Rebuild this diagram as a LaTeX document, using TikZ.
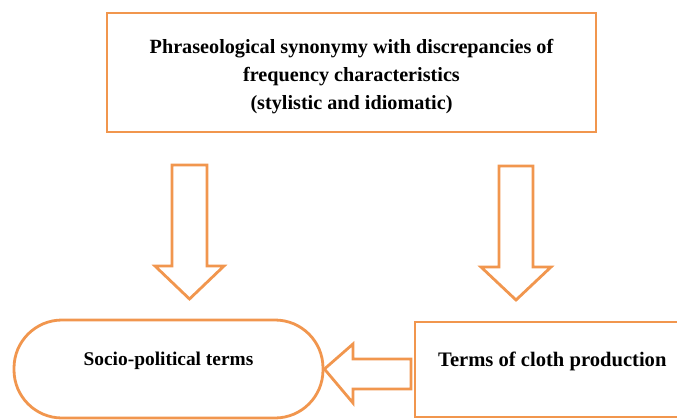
\documentclass[tikz,border=0pt]{standalone}
\usepackage{fontspec}
\setmainfont{Liberation Serif}
\usetikzlibrary{positioning}
\definecolor{orx}{RGB}{241,150,78}

\begin{document}
\begin{tikzpicture}[x=1pt,y=-1pt,
        box/.style={draw=orx,line width=2.8pt,fill=white,inner sep=0pt},
        fatarrow/.style={draw=orx,line width=2.8pt,line join=miter,fill=white},
        lbl/.style={font=\fontsize{20.2}{28}\selectfont\bfseries,align=center}
    ]
            \path[use as bounding box] (0,0) rectangle (677,420);
            \clip (0,0) rectangle (677,420);
            % boxes
            \node[box,minimum width=489,minimum height=119] (synonymy) at (351.5,72.5) {};
            \node[box,minimum width=309,minimum height=98,rounded corners=48] (socio) at (168.5,369) {};
            \node[box,minimum width=280,minimum height=95] (cloth) at (555,369.5) {};
            % texts
            \node[lbl] (synonymytext) at ([yshift=-4pt]synonymy.center)
                {Phraseological synonymy with discrepancies of\\frequency characteristics\\(stylistic and idiomatic)};
            \node[lbl,font=\fontsize{19.4}{24}\selectfont\bfseries] (sociotext) at ([yshift=8pt]socio.center) {Socio-political terms};
            \node[lbl,font=\fontsize{20.6}{24}\selectfont\bfseries,anchor=west] (clothtext) at ([xshift=21pt,yshift=8pt]cloth.west) {Terms of cloth production};
            % arrows
            \draw[fatarrow] (172,165) -- (207,165) -- (207,266) -- (224,266)
                -- (189.5,299) -- (155,266) -- (172,266) -- cycle;
            \draw[fatarrow] (499,166) -- (533,166) -- (533,267) -- (551,267)
                -- (516,300) -- (481,267) -- (499,267) -- cycle;
            \draw[fatarrow] (411,359) -- (411,389) -- (353,389) -- (353,403)
                -- (socio.east) -- (353,344) -- (353,359) -- cycle;
\end{tikzpicture}
\end{document}
